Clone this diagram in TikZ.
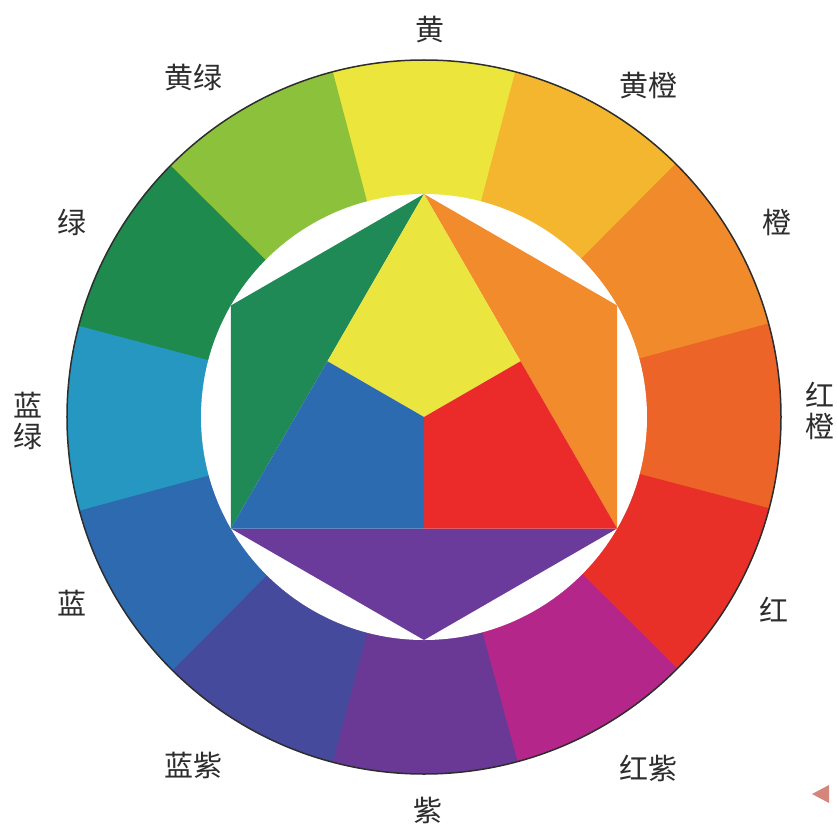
\documentclass[tikz,border=0pt]{standalone}
\usepackage{fontspec}
\usetikzlibrary{calc}
\newfontfamily\cjk{Noto Sans CJK SC}
\definecolor{cY}{RGB}{236,229,60}
\definecolor{cYO}{RGB}{244,182,46}
\definecolor{cO}{RGB}{240,138,43}
\definecolor{cRO}{RGB}{236,100,40}
\definecolor{cR}{RGB}{232,48,40}
\definecolor{cRV}{RGB}{181,38,138}
\definecolor{cV}{RGB}{106,57,149}
\definecolor{cBV}{RGB}{69,74,156}
\definecolor{cB}{RGB}{45,106,175}
\definecolor{cBG}{RGB}{38,151,192}
\definecolor{cG}{RGB}{31,138,78}
\definecolor{cYG}{RGB}{140,194,59}
\definecolor{iY}{RGB}{235,230,63}
\definecolor{iO}{RGB}{242,139,43}
\definecolor{iR}{RGB}{234,43,42}
\definecolor{iV}{RGB}{106,59,154}
\definecolor{iB}{RGB}{45,107,176}
\definecolor{iG}{RGB}{31,138,86}
\definecolor{txtc}{RGB}{45,45,45}
\definecolor{markc}{RGB}{212,134,124}
\begin{document}
\begin{tikzpicture}[x=1pt,y=1pt,
  lbl/.style={font=\cjk\fontsize{29}{31}\selectfont, text=txtc, inner sep=0pt, align=center}]
\useasboundingbox (-424,-408) rectangle (413,417);
% outer ring wedges
\foreach \c [count=\k from 0] in {cY,cYO,cO,cRO,cR,cRV,cV,cBV,cB,cBG,cG,cYG}{
  \pgfmathsetmacro{\a}{90-30*\k}
  \fill[\c] (0,0) -- ({\a+15.2}:357) arc[start angle={\a+15.2}, end angle={\a-15.2}, radius=357] -- cycle;
}
\draw[line width=1.5pt, txtc] (0,0) circle[radius=357];
% inner white disc
\fill[white] (0,0) circle[radius=223];
% hexagon points
\coordinate (T) at (90:223);
\coordinate (UR) at (30:223);
\coordinate (LR) at (-30:223);
\coordinate (B) at (-90:223);
\coordinate (LL) at (-150:223);
\coordinate (UL) at (150:223);
\coordinate (O) at (0,0);
\coordinate (ML) at ($(T)!0.5!(LL)$);
\coordinate (MR) at ($(T)!0.5!(LR)$);
\coordinate (MB) at ($(LL)!0.5!(LR)$);
\fill[iG] (T) -- (UL) -- (LL) -- cycle;
\fill[iO] (T) -- (UR) -- (LR) -- cycle;
\fill[iV] (LL) -- (B) -- (LR) -- cycle;
\fill[iY] (T) -- (MR) -- (O) -- (ML) -- cycle;
\fill[iR] (MR) -- (LR) -- (MB) -- (O) -- cycle;
\fill[iB] (ML) -- (O) -- (MB) -- (LL) -- cycle;
% labels
\node[lbl] (lY) at (6,387) {黄};
\node[lbl] (lYO) at (224,331) {黄橙};
\node[lbl] (lO) at (353,195) {橙};
\node[lbl] (lRO) at (396,6) {红\\橙};
\node[lbl] (lR) at (350,-193) {红};
\node[lbl] (lRV) at (224,-351) {红紫};
\node[lbl] (lV) at (4,-393) {紫};
\node[lbl] (lBV) at (-230,-348) {蓝紫};
\node[lbl] (lB) at (-352,-186) {蓝};
\node[lbl] (lBG) at (-396,-4) {蓝\\绿};
\node[lbl] (lG) at (-352,195) {绿};
\node[lbl] (lYG) at (-230,339) {黄绿};
% small marker
\fill[markc] (388,-377) -- (405,-368) -- (405,-386) -- cycle;
\end{tikzpicture}
\end{document}
